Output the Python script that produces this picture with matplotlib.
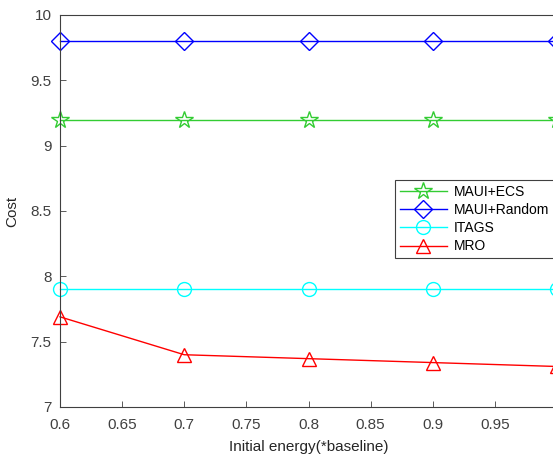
import matplotlib.pyplot as plt
import numpy as np

plt.rcParams['font.family'] = ['Liberation Sans', 'DejaVu Sans']

energy = [0.6, 0.7, 0.8, 0.9, 1.0]
maui_ecs = [9.2, 9.2, 9.2, 9.2, 9.2]
maui_random = [9.8, 9.8, 9.8, 9.8, 9.8]
itags = [7.9, 7.9, 7.9, 7.9, 7.9]
mro = [7.69, 7.40, 7.37, 7.34, 7.31]

xticks = [0.6, 0.65, 0.7, 0.75, 0.8, 0.85, 0.9, 0.95, 1.0]
# the "1" label lies past the picture's right edge in the reference
xticklabels = ['0.6', '0.65', '0.7', '0.75', '0.8', '0.85', '0.9', '0.95', '']
yticks = [7, 7.5, 8, 8.5, 9, 9.5, 10]
yticklabels = ['7', '7.5', '8', '8.5', '9', '9.5', '10']

fig = plt.figure(figsize=(5.53, 4.59), dpi=100)
ax = fig.add_axes([60 / 553, 52 / 459, 497 / 553, 392 / 459])

ms = 10
ax.plot(energy, maui_ecs, color='#33cc33', marker='*', ms=ms + 3, mfc='none', lw=1, label='MAUI+ECS', clip_on=False)
ax.plot(energy, maui_random, color='#0000ff', marker='D', ms=ms - 1, mfc='none', lw=1, label='MAUI+Random', clip_on=False)
ax.plot(energy, itags, color='#00ffff', marker='o', ms=ms, mfc='none', lw=1, label='ITAGS', clip_on=False)
ax.plot(energy, mro, color='#ff0000', marker='^', ms=ms, mfc='none', lw=1, label='MRO', clip_on=False)

ax.set_xlim(0.6, 1.0)
ax.set_ylim(7, 10)
ax.set_xticks(xticks)
ax.set_xticklabels(xticklabels)
ax.set_yticks(yticks)
ax.set_yticklabels(yticklabels)
ax.tick_params(direction='in', labelsize=11, colors='#404040', length=4, width=0.6)
ax.tick_params(axis='x', pad=8)
ax.tick_params(axis='y', pad=6)
for s in ax.spines.values():
    s.set_color('#404040')
    s.set_linewidth(0.8)

ax.set_xlabel('Initial energy(*baseline)', fontsize=11, color='#262626', labelpad=6)
ax.set_ylabel('Cost', fontsize=11, color='#262626', labelpad=8)

leg = fig.legend(loc='upper left', bbox_to_anchor=(395 / 553, 1 - 180 / 459), fontsize=10,
                 frameon=True, fancybox=False, edgecolor='#404040', framealpha=1,
                 handlelength=3.4, borderpad=0.35, labelspacing=0.3, handletextpad=0.5,
                 borderaxespad=0)
leg.get_frame().set_linewidth(0.8)

fig.savefig('out.png', dpi=100)
